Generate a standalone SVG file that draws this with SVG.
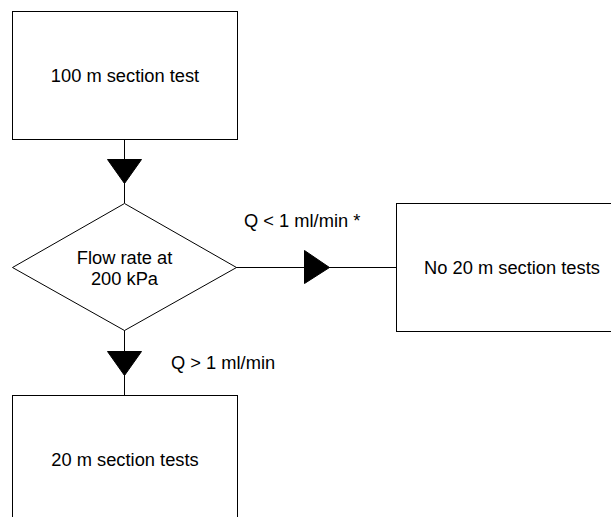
<svg xmlns="http://www.w3.org/2000/svg" width="611" height="517" viewBox="0 0 611 517">
  <style>
    .box { fill: #ffffff; stroke: #000000; stroke-width: 1; }
    .line { fill: none; stroke: #000000; stroke-width: 1; }
    .head { fill: #000000; stroke: #000000; stroke-width: 1; }
    .label { font-family: "Liberation Sans", Arial, sans-serif; font-size: 18.3px; fill: #000000; }
    .mid { text-anchor: middle; }
  </style>
  <rect width="611" height="517" fill="#ffffff"/>

  <!-- connectors with their arrowheads and labels -->
  <g id="connectors">
    <line class="line" x1="124.5" y1="139.5" x2="124.5" y2="203"/>
    <polygon class="head" points="107.5,159.5 141.5,159.5 124.5,183.5"/>

    <line class="line" x1="236" y1="267.5" x2="396.5" y2="267.5"/>
    <polygon class="head" points="304.5,250.5 304.5,283.5 329.5,267.5"/>
    <text class="label" x="244" y="227">Q &lt; 1 ml/min *</text>

    <line class="line" x1="124.5" y1="330" x2="124.5" y2="395.5"/>
    <polygon class="head" points="107.5,351.5 141.5,351.5 124.5,375.5"/>
    <text class="label" x="171" y="369">Q &gt; 1 ml/min</text>
  </g>

  <g id="node-100m">
    <rect class="box" x="12.5" y="11.5" width="225" height="128"/>
    <text class="label mid" x="125" y="82">100 m section test</text>
  </g>

  <g id="node-flow">
    <polygon class="box" points="124.5,203.5 236.5,267.5 124.5,330.5 12.5,267.5"/>
    <text class="label mid" x="124.5" y="264">Flow rate at</text>
    <text class="label mid" x="124.5" y="285">200 kPa</text>
  </g>

  <g id="node-no20m">
    <rect class="box" x="396.5" y="203.5" width="232" height="128"/>
    <text class="label mid" x="512" y="274">No 20 m section tests</text>
  </g>

  <g id="node-20m">
    <rect class="box" x="12.5" y="395.5" width="225" height="128"/>
    <text class="label mid" x="125" y="466">20 m section tests</text>
  </g>
</svg>
